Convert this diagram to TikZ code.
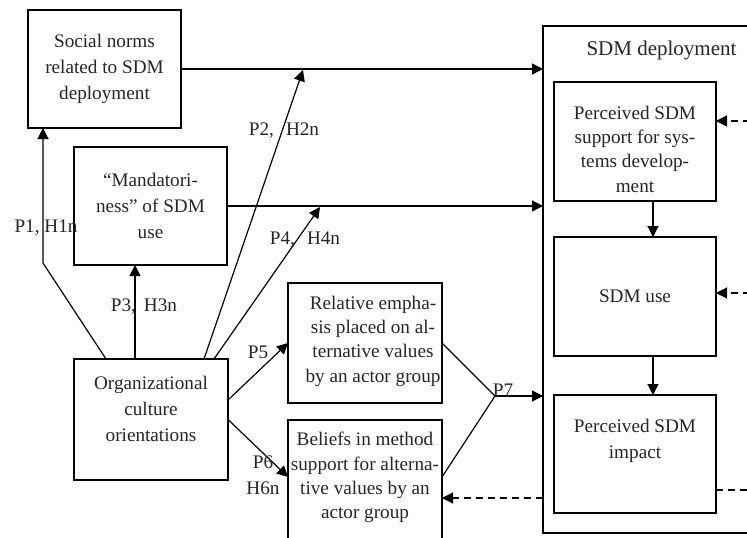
\documentclass[tikz,border=0pt]{standalone}
\usepackage{fontspec}
\setmainfont{Liberation Serif}
\usetikzlibrary{arrows.meta,calc}
\begin{document}
\begin{tikzpicture}[x=1pt,y=-1pt,
  every node/.style={font=\fontsize{19.2}{26}\selectfont, text=black!85},
  box/.style={draw, line width=1.2pt, inner sep=0pt, outer sep=0pt},
  txt/.style={align=center, inner sep=0pt},
  four/.style={font=\fontsize{19.2}{24.3}\selectfont},
  lbl/.style={inner sep=0pt},
  arr/.style={line width=1.2pt, -{Triangle[length=11pt,width=11pt]}},
  ln/.style={line width=1.2pt},
  dsh/.style={line width=1.2pt, dash pattern=on 7pt off 5pt}]
\useasboundingbox (0,0) rectangle (747,538);
\clip (0,0) rectangle (747,538);

% boxes
\node[box, minimum width=153pt, minimum height=118pt] (norms) at (104.5,69) {};
\node[box, minimum width=153pt, minimum height=118pt] (mand) at (150.5,206) {};
\node[box, minimum width=154pt, minimum height=121pt] (org) at (151,419.5) {};
\node[box, minimum width=154pt, minimum height=120pt] (rel) at (365,343) {};
\node[box, minimum width=154pt, minimum height=130pt] (bel) at (365,485) {};
\node[box, minimum width=214pt, minimum height=507pt] (sdm) at (650,279.5) {};
\node[box, fill=white, minimum width=162pt, minimum height=119pt] (sup) at (635,141.5) {};
\node[box, fill=white, minimum width=162pt, minimum height=119pt] (use) at (635,296.5) {};
\node[box, fill=white, minimum width=162pt, minimum height=118pt] (imp) at (635,454) {};

% texts
\node[txt] (tnorms) at (104.5,69) {Social norms\\related to SDM\\deployment};
\node[txt] (tmand) at (150.5,206) {“Mandatori-\\ness” of SDM\\use};
\node[txt] (torg) at (151,409) {Organizational\\culture\\orientations};
\node[txt, four] (trel) at (373,341) {Relative empha-\\sis placed on al-\\ternative values\\by an actor group};
\node[txt, four] (tbel) at (365,477.5) {Beliefs in method\\support for alterna-\\tive values by an\\actor group};
\node[txt, font=\fontsize{21}{26}\selectfont] (tsdm) at (661.5,50) {SDM deployment};
\node[txt, four] (tsup) at (635,149) {Perceived SDM\\support for sys-\\tems develop-\\ment};
\node[txt] (tuse) at (635,296.5) {SDM use};
\node[txt] (timp) at (635,440.5) {Perceived SDM\\impact};

% coordinates
\coordinate (p1b) at (43,263);
\coordinate (p2e) at (303,70);
\coordinate (p4e) at (320,207);
\coordinate (p7) at (495,396);
\coordinate (rA) at (750,121);
\coordinate (rB) at (750,293);
\coordinate (rC) at (750,490);

% connectors
\draw[arr] ([xshift=32pt]org.north west) -- (p1b) -- ([xshift=15pt]norms.south west);
\draw[arr] ([xshift=-16pt]org.north) -- ([xshift=-16pt]org.north |- mand.south);
\draw[arr] ([xshift=130pt]org.north west) -- (p2e);
\draw[arr] ([xshift=140pt]org.north west) -- (p4e);
\draw[arr] (norms.east) -- (norms.east -| sdm.west);
\draw[arr] (mand.east) -- (mand.east -| sdm.west);
\draw[arr] ([yshift=19.5pt]org.east) -- (rel.west);
\draw[arr] (org.east) -- ([yshift=8pt]bel.west);
\draw[ln] (rel.east) -- (p7) -- ([yshift=8pt]bel.east);
\draw[arr] (p7) -- (p7 -| sdm.west);
\draw[arr] ([xshift=18pt]sup.south) -- ([xshift=18pt]use.north);
\draw[arr] ([xshift=18pt]use.south) -- ([xshift=18pt]imp.north);
\draw[dsh, -{Triangle[length=11pt,width=11pt]}] (rA) -- (rA -| sup.east);
\draw[dsh, -{Triangle[length=11pt,width=11pt]}] (rB) -- (rB -| use.east);
\draw[dsh] (rC -| imp.east) -- (rC);
\draw[dsh, -{Triangle[length=11pt,width=11pt]}] ([yshift=-13pt]bel.east -| sdm.west) -- ([yshift=-13pt]bel.east);

% labels
\node[lbl] (l1) at (46,228) {P1, H1n};
\node[lbl] (l3) at (144,307) {P3,\hspace{8pt}H3n};
\node[lbl] (l2) at (284,131) {P2,\hspace{12pt}H2n};
\node[lbl] (l4) at (305,240) {P4,\hspace{12pt}H4n};
\node[lbl] (l5) at (258,352) {P5};
\node[lbl, align=center] (l6) at (263,475) {P6\\H6n};
\node[lbl] (l7) at (503,390) {P7};
\end{tikzpicture}
\end{document}
